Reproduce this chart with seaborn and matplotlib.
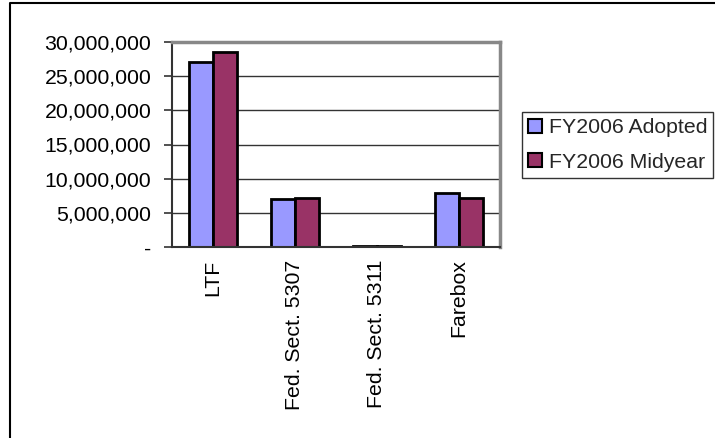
import matplotlib
matplotlib.use("Agg")
import matplotlib.pyplot as plt
import matplotlib.ticker as mticker
from matplotlib.lines import Line2D
from matplotlib.patches import Patch
import seaborn as sns
import pandas as pd

# Funding sources and budget amounts (dollars)
categories = ["LTF", "Fed. Sect. 5307", "Fed. Sect. 5311", "Farebox"]
adopted = [27_050_000, 6_970_000, 180_000, 7_900_000]
midyear = [28_500_000, 7_200_000, 180_000, 7_200_000]
series_names = ["FY2006 Adopted", "FY2006 Midyear"]
series_colors = ["#9999FF", "#993366"]
y_ticks = [0, 5_000_000, 10_000_000, 15_000_000, 20_000_000, 25_000_000, 30_000_000]

df = pd.DataFrame({
    "Source": categories * 2,
    "Series": [series_names[0]] * len(categories) + [series_names[1]] * len(categories),
    "Amount": adopted + midyear,
})

sns.set_theme(style="white")
plt.rcParams["font.family"] = ["Liberation Sans", "DejaVu Sans"]

W, H = 715, 438
FS = 15.3
fig = plt.figure(figsize=(W / 100, H / 100), dpi=100)
ax = fig.add_axes([172 / W, 1 - 247 / H, (500 - 172) / W, (247 - 42) / H])

sns.barplot(
    data=df, x="Source", y="Amount", hue="Series", order=categories,
    hue_order=series_names, palette=series_colors, width=0.58, gap=0,
    edgecolor="black", linewidth=2, saturation=1, ax=ax, legend=False,
)

ax.set_ylim(0, 30_000_000)
ax.set_xlim(-0.5, len(categories) - 0.5)
ax.set_yticks(y_ticks)
ax.yaxis.set_major_formatter(
    mticker.FuncFormatter(lambda v, p: "-" if v == 0 else f"{int(v):,}")
)
ax.set_xticks(range(len(categories)))
ax.set_xticklabels(categories, rotation=90, va="top", ha="center")
ax.set_xticks([i - 0.5 for i in range(len(categories) + 1)], minor=True)
ax.tick_params(axis="x", which="major", length=0, pad=9, labelsize=FS, colors="black")
ax.tick_params(axis="x", which="minor", length=6, width=1.2, color="#333333", direction="out")
ax.tick_params(axis="y", length=6, width=1.2, color="#333333", direction="out",
               labelsize=FS, labelcolor="black", pad=9, left=True)
ax.set_xlabel("")
ax.set_ylabel("")

ax.yaxis.grid(True, color="#333333", linewidth=1)
ax.set_axisbelow(True)
for side in ("left", "bottom"):
    ax.spines[side].set_color("#333333")
    ax.spines[side].set_linewidth(1.5)
for side in ("top", "right"):
    ax.spines[side].set_color("#888888")
    ax.spines[side].set_linewidth(2.5)

handles = [Patch(facecolor=c, edgecolor="black", linewidth=1.5) for c in series_colors]
leg = fig.legend(
    handles, series_names, loc="upper left",
    bbox_to_anchor=(522 / W, 1 - 112 / H), fontsize=FS, frameon=True,
    fancybox=False, edgecolor="black", handlelength=0.65, handleheight=0.65,
    handletextpad=0.3, borderpad=0.3, labelspacing=0.72, borderaxespad=0,
)
leg.get_frame().set_linewidth(1.0)

# Outer chart border (left and top edges)
fig.add_artist(Line2D([10 / W, 10 / W, 1.0], [0.0, 1 - 3 / H, 1 - 3 / H],
                      transform=fig.transFigure, color="black", linewidth=1.5))

fig.savefig("out.png", dpi=100)
